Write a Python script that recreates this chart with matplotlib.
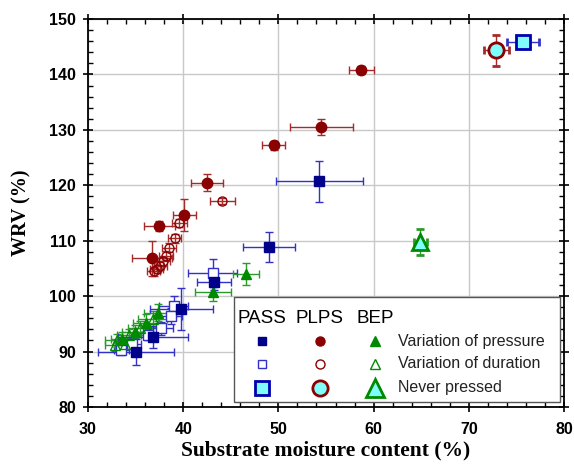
import numpy as np
import matplotlib
matplotlib.use('Agg')
from matplotlib import pyplot as plt
from matplotlib.patches import Rectangle

#%% data (x = substrate moisture %, y = WRV %)
# PASS
pass_p_x = [54.3, 49.0, 43.2, 39.8, 36.8, 35.0]
pass_p_y = [120.7, 108.9, 102.6, 97.7, 92.6, 89.9]
pass_p_xe = [4.6, 2.7, 1.8, 3.3, 3.7, 4.0]
pass_p_ye = [3.7, 2.7, 1.5, 3.8, 2.0, 2.3]

pass_d_x = [43.1, 39.0, 38.7, 37.7, 36.3, 34.6, 33.5]
pass_d_y = [104.2, 98.2, 96.4, 94.2, 93.0, 91.4, 90.2]
pass_d_xe = [2.6, 1.5, 1.2, 1.2, 1.0, 1.0, 0.8]
pass_d_ye = [2.5, 1.8, 1.5, 1.2, 1.0, 1.0, 0.8]

pass_n_x, pass_n_y, pass_n_xe, pass_n_ye = [75.7], [145.9], [1.7], [0.8]

# PLPS
plps_p_x = [58.7, 54.5, 49.5, 42.5, 40.1, 37.5, 36.7]
plps_p_y = [140.8, 130.5, 127.2, 120.5, 114.7, 112.6, 106.8]
plps_p_xe = [1.3, 3.3, 1.2, 1.7, 1.2, 1.6, 2.1]
plps_p_ye = [0.8, 1.4, 0.8, 1.6, 2.9, 0.9, 3.2]

plps_d_x = [44.1, 39.6, 39.1, 38.5, 38.2, 37.9, 37.6, 37.2, 36.9]
plps_d_y = [117.2, 113.2, 110.4, 108.7, 107.3, 106.3, 105.5, 104.9, 104.5]
plps_d_xe = [1.3, 0.8, 0.7, 0.7, 0.7, 0.7, 0.7, 0.7, 0.7]
plps_d_ye = [0.5, 0.8, 0.8, 0.8, 0.8, 0.8, 0.8, 0.8, 0.8]

plps_n_x, plps_n_y, plps_n_xe, plps_n_ye = [72.9], [144.4], [1.3], [2.8]

# BEP
bep_p_x = [46.6, 43.1, 37.4, 36.1, 34.9, 33.6]
bep_p_y = [104.0, 100.8, 97.0, 95.2, 93.6, 92.3]
bep_p_xe = [1.4, 1.9, 1.5, 1.4, 1.3, 1.2]
bep_p_ye = [2.0, 1.7, 1.5, 1.5, 1.2, 1.2]

bep_d_x = [36.8, 35.5, 34.3, 33.0, 33.9, 32.8]
bep_d_y = [95.9, 94.2, 92.9, 92.0, 91.4, 91.1]
bep_d_xe = [1.5, 1.3, 1.3, 1.2, 1.0, 1.0]
bep_d_ye = [1.5, 1.3, 1.2, 1.2, 1.0, 1.0]

bep_n_x, bep_n_y, bep_n_xe, bep_n_ye = [64.9], [109.8], [0.7], [2.4]

#%% styles
c_pass, c_pass_e = '#00008b', '#3232c8'
c_plps, c_plps_e = '#8b0000', '#a52a2a'
c_bep, c_bep_e = '#008a00', '#2a9a2a'
cyan = '#7ffcfc'

fig = plt.figure(figsize=(5.74, 4.70), dpi=100)
ax = fig.add_axes([88/574, 1-407/470, 476/574, 388/470])

def eb(x, y, xe, ye, mk, ms, mfc, mec, ec, mew=1.0):
    ax.errorbar(x, y, xerr=xe, yerr=ye, fmt=mk, ms=ms, mfc=mfc, mec=mec,
                mew=mew, ecolor=ec, elinewidth=1.0, capsize=3, capthick=1.0,
                zorder=3)

eb(plps_d_x, plps_d_y, plps_d_xe, plps_d_ye, 'o', 6.5, 'none', c_plps, c_plps_e)
eb(plps_p_x, plps_p_y, plps_p_xe, plps_p_ye, 'o', 7.5, c_plps, c_plps, c_plps_e)
eb(pass_d_x, pass_d_y, pass_d_xe, pass_d_ye, 's', 6.5, 'white', c_pass_e, c_pass_e)
eb(bep_d_x, bep_d_y, bep_d_xe, bep_d_ye, '^', 7, 'none', c_bep, c_bep_e)
eb(bep_p_x, bep_p_y, bep_p_xe, bep_p_ye, '^', 7.5, c_bep, c_bep, c_bep_e)
eb(pass_p_x, pass_p_y, pass_p_xe, pass_p_ye, 's', 7.5, c_pass, c_pass, c_pass_e)
eb(pass_n_x, pass_n_y, pass_n_xe, pass_n_ye, 's', 10, cyan, '#0000b0', c_pass_e, 2)
eb(plps_n_x, plps_n_y, plps_n_xe, plps_n_ye, 'o', 11, cyan, c_plps, c_plps_e, 2)
eb(bep_n_x, bep_n_y, bep_n_xe, bep_n_ye, '^', 12, cyan, c_bep, c_bep_e, 2)

ax.set_xlim(30, 80)
ax.set_ylim(80, 150)
ax.set_xticks(np.arange(30, 81, 10))
ax.set_yticks(np.arange(80, 151, 10))
ax.set_xticks(np.arange(30, 81, 2), minor=True)
ax.set_yticks(np.arange(80, 151, 2), minor=True)
ax.grid(True, which='major', color='#c8c8c8', linewidth=1.0, zorder=0)
ax.set_axisbelow(True)
ax.tick_params(which='major', direction='inout', length=7, width=1.2,
               top=True, right=True, labeltop=False, labelright=False)
ax.tick_params(axis='x', which='major', pad=7)
ax.tick_params(axis='y', which='major', pad=5)
ax.tick_params(which='minor', direction='in', length=3.5, width=1.0,
               top=True, right=True)
for s in ax.spines.values():
    s.set_linewidth(1.3)
for lab in ax.get_xticklabels() + ax.get_yticklabels():
    lab.set_fontfamily('Liberation Sans')
    lab.set_fontweight('bold')
    lab.set_fontsize(11.5)

ax.set_xlabel('Substrate moisture content (%)', fontsize=15.5, fontweight='bold',
              family='Liberation Serif', labelpad=3)
ax.set_ylabel('WRV (%)', fontsize=14.5, fontweight='bold',
              family='Liberation Serif', labelpad=13)

#%% hand-built legend box
ax.add_patch(Rectangle((0.307, 0.013), 0.685, 0.271, transform=ax.transAxes,
                       facecolor='white', edgecolor='#555555', lw=1.0, zorder=5))
hx = [0.366, 0.487, 0.603]
for t, xx in zip(['PASS', 'PLPS', 'BEP'], hx):
    ax.text(xx, 0.227, t, transform=ax.transAxes, ha='center', va='center',
            fontsize=13.5, family='Liberation Sans', zorder=6)
rows = [0.170, 0.111, 0.049]
leg = [
    [('s', 6, c_pass, c_pass, 1), ('o', 6.5, c_plps, c_plps, 1), ('^', 7, c_bep, c_bep, 1)],
    [('s', 6, 'white', c_pass_e, 1), ('o', 6.5, 'white', c_plps, 1), ('^', 7, 'white', c_bep, 1)],
    [('s', 10, cyan, '#0000b0', 2), ('o', 11, cyan, c_plps, 2), ('^', 13, cyan, c_bep, 2)],
]
for yy, row in zip(rows, leg):
    for xx, (mk, ms, fc, ec, mw) in zip(hx, row):
        ax.plot([xx], [yy], mk, ms=ms, mfc=fc, mec=ec, mew=mw,
                transform=ax.transAxes, zorder=6, clip_on=False)
for yy, t in zip(rows, ['Variation of pressure', 'Variation of duration', 'Never pressed']):
    ax.text(0.651, yy, t, transform=ax.transAxes, ha='left', va='center',
            fontsize=11.5, family='Liberation Sans', color='#222222', zorder=6)

fig.savefig('out.png', dpi=100)
